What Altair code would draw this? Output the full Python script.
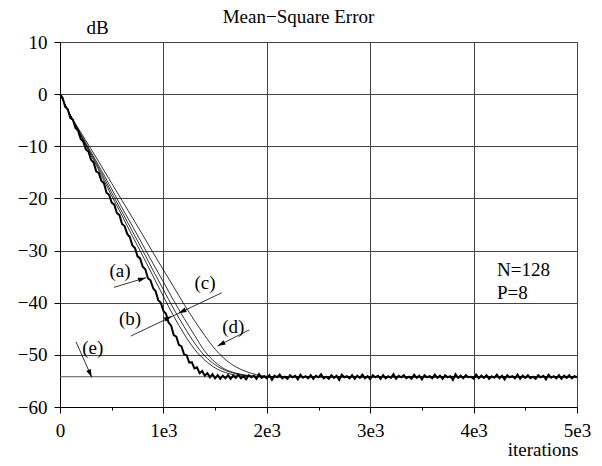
import altair as alt
import pandas as pd

# ---------------- data ----------------
# noisy learning curve (a), one value every 25 iterations, dB
a_iter = list(range(0, 5001, 25))
a_db = [
    0.0, -0.7, -2.4, -2.9, -4.6, -4.9, -6.5, -7.0, -8.6, -9.1,
    -10.6, -11.0, -12.6, -13.1, -14.8, -15.1, -16.6, -17.1, -18.9, -19.3,
    -20.8, -21.2, -22.8, -23.2, -24.9, -25.3, -26.8, -27.4, -29.0, -29.5,
    -31.1, -31.5, -33.1, -33.6, -35.3, -35.7, -37.2, -37.8, -39.5, -40.0,
    -41.6, -42.1, -43.8, -44.4, -46.2, -46.5, -48.1, -48.4, -49.9, -50.1,
    -51.5, -51.4, -52.6, -52.4, -53.5, -53.1, -54.0, -53.5, -54.3, -53.7,
    -54.5, -53.9, -54.6, -54.0, -54.5,
    -53.9, -54.6, -54.0, -54.4, -53.8, -54.5, -54.1, -54.7, -53.9, -54.3,
    -54.0, -54.6, -53.7, -54.4, -54.1, -54.5, -53.9, -54.8, -54.0, -54.3,
    -53.8, -54.5, -54.2, -54.6, -53.9, -54.3, -54.0, -54.7, -53.8, -54.4,
    -54.1, -54.5, -53.9, -54.6, -54.0, -54.3, -53.7, -54.5, -54.2, -54.6,
    -53.9, -54.4, -54.0, -54.8, -53.8, -54.3, -54.1, -54.5, -53.9, -54.6,
    -54.0, -54.4, -53.8, -54.5, -54.1, -54.7, -53.9, -54.3, -54.0, -54.6,
    -53.9, -54.5, -54.1, -54.4, -53.7, -54.6, -54.0, -54.3, -53.9, -54.5,
    -54.2, -54.6, -53.8, -54.4, -54.0, -54.7, -53.9, -54.3, -54.1, -54.5,
    -53.8, -54.4, -54.0, -54.6, -53.9, -54.3, -54.1, -54.8, -53.7, -54.4,
    -54.0, -54.5, -53.9, -54.3, -54.2, -54.6, -53.8, -54.5, -54.0, -54.4,
    -53.9, -54.6, -54.1, -54.4, -53.8, -54.5, -54.0, -54.7, -53.9, -54.3,
    -54.1, -54.5, -53.8, -54.6, -54.0, -54.4, -53.9, -54.5, -54.2, -54.6,
    -53.9, -54.3, -54.0, -54.7, -53.8, -54.4, -54.1, -54.5, -53.9, -54.6,
    -54.0, -54.4, -53.9, -54.5, -54.1, -54.3,
]

# smooth (theoretical) curves, dB
thin_iter = [0, 100, 200, 300, 400, 500, 600, 700, 800, 900, 1000, 1100,
             1200, 1300, 1400, 1500, 1600, 1700, 1800, 1900, 2000, 2100, 5000]
b_db = [0, -4.1, -8.0, -11.7, -15.6, -19.5, -23.3, -27.2, -31.0, -34.9, -38.8, -42.6,
        -46.0, -48.9, -51.0, -52.5, -53.4, -53.9, -54.1, -54.2, -54.2, -54.2, -54.2]
b2_db = [0, -4.1, -7.8, -11.4, -15.1, -18.9, -22.6, -26.3, -30.0, -33.8, -37.5, -41.2,
         -44.6, -47.7, -50.2, -51.9, -53.0, -53.6, -54.0, -54.15, -54.2, -54.2, -54.2]
c_db = [0, -4.0, -7.6, -11.1, -14.6, -18.2, -21.8, -25.3, -28.9, -32.5, -36.0, -39.6,
        -43.0, -46.2, -49.3, -51.4, -52.8, -53.5, -53.9, -54.1, -54.2, -54.2, -54.2]
d_db = [0, -4.0, -7.3, -10.5, -13.8, -17.1, -20.4, -23.7, -27.0, -30.4, -33.7, -37.0,
        -40.3, -43.4, -46.3, -48.9, -50.9, -52.3, -53.2, -53.8, -54.1, -54.2, -54.2]

floor_db = -54.2   # line (e)

# annotation labels (iterations, dB)
lab_text = ["(a)", "(b)", "(c)", "(d)", "(e)"]
lab_x = [580, 677, 1402, 1676, 316]
lab_y = [-34.0, -43.2, -36.3, -44.6, -48.6]

# leader lines
lead_x = [522, 684, 1831, 155]
lead_y = [-37.05, -46.4, -45.2, -47.5]
lead_x2 = [832, 1564, 1523, 307]
lead_y2 = [-35.2, -38.1, -48.3, -54.3]

# arrow heads (tip position and direction in degrees)
tip_x = [832, 1083, 1146, 1523, 307]
tip_y = [-35.2, -42.6, -42.0, -48.3, -54.3]
tip_ang = [343.3, 334.6, 154.6, 153.3, 66.2]

info_text = ["N=128", "P=8"]
info_x = [4226, 4226]
info_y = [-33.7, -38.1]

# ---------------- chart ----------------
FONT = "Liberation Serif"
FS = 19

xs = alt.Scale(domain=[0, 5000], nice=False, zero=False)
ys = alt.Scale(domain=[-60, 10], nice=False, zero=False)

x_axis = alt.Axis(
    values=list(range(0, 5001, 500)),
    labelExpr="datum.value == 0 ? '0' : (datum.value % 1000 == 0 ? (datum.value / 1000) + 'e3' : '')",
    tickSize={"condition": {"test": "datum.value % 1000 != 0", "value": 3}, "value": 6},
    gridOpacity={"condition": {"test": "datum.value % 1000 != 0", "value": 0}, "value": 1},
    labelFlush=False, labelOverlap=False, labelPadding=8,
    title="iterations", titleX=518, titleY=48, titleAlign="right",
    titleBaseline="alphabetic", titleAngle=0,
)
y_axis = alt.Axis(
    values=list(range(-60, 11, 5)),
    labelExpr="datum.value % 10 == 0 ? format(datum.value, 'd') : ''",
    tickSize={"condition": {"test": "datum.value % 10 != 0", "value": 3}, "value": 6},
    gridOpacity={"condition": {"test": "datum.value % 10 != 0", "value": 0}, "value": 1},
    labelOverlap=False, labelPadding=7,
    title="dB", titleX=37, titleY=-9, titleAlign="center",
    titleBaseline="alphabetic", titleAngle=0,
)

thin_rows = []
for name, vals in [("b", b_db), ("b2", b2_db), ("c", c_db), ("d", d_db)]:
    for t, v in zip(thin_iter, vals):
        thin_rows.append({"it": t, "db": v, "s": name})
thin_df = pd.DataFrame(thin_rows)
a_df = pd.DataFrame({"it": a_iter, "db": a_db})

base_x = alt.X("it:Q", scale=xs, axis=x_axis)
base_y = alt.Y("db:Q", scale=ys, axis=y_axis)

thin = alt.Chart(thin_df).mark_line(color="black", strokeWidth=0.8, interpolate="monotone").encode(
    x=base_x, y=base_y, detail="s:N"
)
noisy = alt.Chart(a_df).mark_line(color="black", strokeWidth=2).encode(x=base_x, y=base_y)

floor = alt.Chart(pd.DataFrame({"db": [floor_db]})).mark_rule(color="#555", strokeWidth=1).encode(
    y=alt.Y("db:Q", scale=ys)
)

lead_df = pd.DataFrame({"x": lead_x, "y": lead_y, "x2": lead_x2, "y2": lead_y2})
leads = alt.Chart(lead_df).mark_rule(color="black", strokeWidth=0.8).encode(
    x=alt.X("x:Q", scale=xs), y=alt.Y("y:Q", scale=ys), x2="x2:Q", y2="y2:Q"
)

tip_df = pd.DataFrame({"x": tip_x, "y": tip_y, "ang": tip_ang})
tips = alt.Chart(tip_df).mark_point(
    shape="M0,0L-2,-0.6L-2,0.6Z", filled=True, color="black", size=64, opacity=1, strokeWidth=0
).encode(
    x=alt.X("x:Q", scale=xs), y=alt.Y("y:Q", scale=ys), angle=alt.Angle("ang:Q", scale=None)
)

lab_df = pd.DataFrame({"x": lab_x, "y": lab_y, "t": lab_text})
labels = alt.Chart(lab_df).mark_text(font=FONT, fontSize=FS, color="black", align="center", baseline="middle").encode(
    x=alt.X("x:Q", scale=xs), y=alt.Y("y:Q", scale=ys), text="t:N"
)

info_df = pd.DataFrame({"x": info_x, "y": info_y, "t": info_text})
info = alt.Chart(info_df).mark_text(font=FONT, fontSize=FS, color="black", align="left", baseline="middle").encode(
    x=alt.X("x:Q", scale=xs), y=alt.Y("y:Q", scale=ys), text="t:N"
)

chart = alt.layer(floor, thin, noisy, leads, tips, labels, info).properties(
    width=517, height=365,
    title=alt.TitleParams("Mean\u2212Square Error", font=FONT, fontSize=FS, fontWeight="normal",
                          anchor="middle", frame="group", dx=-20, dy=5, offset=-19, baseline="alphabetic",
                          color="black"),
    autosize=alt.AutoSizeParams(type="none"),
    padding={"left": 60, "top": 42, "right": 25, "bottom": 59},
    background="white",
).configure_axis(
    labelFont=FONT, labelFontSize=FS, labelColor="black",
    titleFont=FONT, titleFontSize=FS, titleFontWeight="normal", titleColor="black",
    domainColor="black", domainWidth=1, tickColor="black", tickWidth=1,
    gridColor="#444", gridWidth=1,
).configure_view(stroke="#444", strokeWidth=1)

chart.save("out.html", embed_options={"renderer": "svg", "actions": False})
